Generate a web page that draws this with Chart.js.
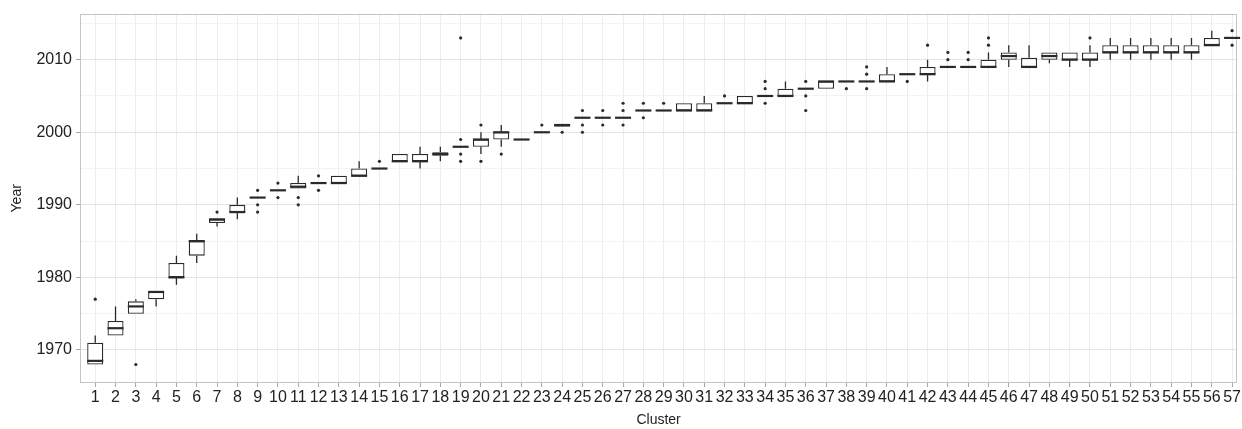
<!DOCTYPE html>
<html>
<head>
<meta charset="utf-8">
<script src="https://cdn.jsdelivr.net/npm/chart.js@4"></script>
<style>
  html, body { margin: 0; padding: 0; background: #fff; }
  #wrap { width: 1242px; height: 429px; }
</style>
</head>
<body>
<div id="wrap"><canvas id="chart"></canvas></div>
<script>
// clusters and the box stats (years)
const clusters = [1, 2, 3, 4, 5, 6, 7, 8, 9, 10, 11, 12, 13, 14, 15, 16, 17, 18, 19, 20,
  21, 22, 23, 24, 25, 26, 27, 28, 29, 30, 31, 32, 33, 34, 35, 36, 37, 38, 39, 40,
  41, 42, 43, 44, 45, 46, 47, 48, 49, 50, 51, 52, 53, 54, 55, 56, 57];

const lo = [1968, 1972, 1975, 1976, 1979, 1982, 1987, 1988, 1991, 1992, 1992.25, 1993, 1993, 1994, 1995, 1996, 1995, 1996, 1998, 1997,
  1998, 1999, 2000, 2000.75, 2002, 2002, 2002, 2003, 2003, 2003, 2003, 2004, 2004, 2005, 2005, 2006, 2006, 2007, 2007, 2007,
  2008, 2007, 2009, 2009, 2009, 2009, 2009, 2009.5, 2009, 2009, 2010, 2010, 2010, 2010, 2010, 2012, 2013];
const q1 = [1968, 1972, 1975, 1977, 1980, 1983, 1987.5, 1989, 1991, 1992, 1992.25, 1993, 1993, 1994, 1995, 1996, 1996, 1996.75, 1998, 1998,
  1999, 1999, 2000, 2000.75, 2002, 2002, 2002, 2003, 2003, 2003, 2003, 2004, 2004, 2005, 2005, 2006, 2006, 2007, 2007, 2007,
  2008, 2008, 2009, 2009, 2009, 2010, 2009, 2010, 2010, 2010, 2011, 2011, 2011, 2011, 2011, 2012, 2013];
const med = [1968.5, 1973, 1976, 1978, 1980, 1985, 1988, 1989, 1991, 1992, 1992.5, 1993, 1993, 1994, 1995, 1996, 1996, 1997, 1998, 1999,
  2000, 1999, 2000, 2001, 2002, 2002, 2002, 2003, 2003, 2003, 2003, 2004, 2004, 2005, 2005, 2006, 2007, 2007, 2007, 2007,
  2008, 2008, 2009, 2009, 2009, 2010.5, 2009, 2010.5, 2010, 2010, 2011, 2011, 2011, 2011, 2011, 2012, 2013];
const q3 = [1971, 1974, 1976.7, 1978, 1982, 1985, 1988, 1990, 1991, 1992, 1993, 1993, 1994, 1995, 1995, 1997, 1997, 1997.25, 1998, 1999,
  2000, 1999, 2000, 2001, 2002, 2002, 2002, 2003, 2003, 2004, 2004, 2004, 2005, 2005, 2006, 2006, 2007, 2007, 2007, 2008,
  2008, 2009, 2009, 2009, 2010, 2011, 2010.25, 2011, 2011, 2011, 2012, 2012, 2012, 2012, 2012, 2013, 2013];
const hi = [1972, 1976, 1977, 1978, 1983, 1986, 1988, 1991, 1991, 1992, 1994, 1993, 1994, 1996, 1995, 1997, 1998, 1998, 1998, 2000,
  2001, 1999, 2000, 2001, 2002, 2002, 2002, 2003, 2003, 2004, 2005, 2004, 2005, 2005, 2007, 2006, 2007, 2007, 2007, 2009,
  2008, 2010, 2009, 2009, 2011, 2012, 2012, 2011, 2011, 2012, 2013, 2013, 2013, 2013, 2013, 2014, 2013];

// outlier points
const outX = [1, 3, 7, 9, 9, 9, 10, 10, 11, 11, 12, 12, 15, 19, 19, 19, 19, 20, 20, 21, 23, 24,
  25, 25, 25, 26, 26, 27, 27, 27, 28, 28, 29, 32, 34, 34, 34, 36, 36, 36, 38, 39, 39, 39,
  41, 42, 43, 43, 44, 44, 45, 45, 50, 57, 57];
const outY = [1977, 1968, 1989, 1992, 1990, 1989, 1993, 1991, 1991, 1990, 1994, 1992, 1996, 2013, 1999, 1997, 1996, 2001, 1996, 1997, 2001, 2000,
  2003, 2001, 2000, 2003, 2001, 2004, 2003, 2001, 2004, 2002, 2004, 2005, 2007, 2006, 2004, 2007, 2005, 2003, 2006, 2009, 2008, 2006,
  2007, 2012, 2011, 2010, 2011, 2010, 2013, 2012, 2013, 2014, 2012];

const yTicks = [1970, 1975, 1980, 1985, 1990, 1995, 2000, 2005, 2010, 2015];

const lineCol = '#2a2a2a';
const fontFam = "'Liberation Sans', Arial, sans-serif";

// panel border, drawn after the grid
const panelBorder = {
  id: 'panelBorder',
  beforeDatasetsDraw(chart) {
    const { ctx, chartArea: a } = chart;
    ctx.save();
    ctx.strokeStyle = '#c4c4c4';
    ctx.lineWidth = 1;
    ctx.strokeRect(Math.round(a.left) + 0.5, Math.round(a.top) + 0.5,
      Math.round(a.right - a.left) - 1, Math.round(a.bottom - a.top) - 1);
    ctx.restore();
  }
};

// whiskers + median lines
const boxParts = {
  id: 'boxParts',
  afterDatasetsDraw(chart) {
    const { ctx, scales: { x, y } } = chart;
    const meta = chart.getDatasetMeta(0);
    ctx.save();
    ctx.strokeStyle = lineCol;
    clusters.forEach((c, i) => {
      const px = x.getPixelForValue(c);
      const half = meta.data[i].width / 2;
      ctx.lineWidth = 1.3;
      ctx.beginPath();
      ctx.moveTo(px, y.getPixelForValue(q3[i]));
      ctx.lineTo(px, y.getPixelForValue(hi[i]));
      ctx.moveTo(px, y.getPixelForValue(q1[i]));
      ctx.lineTo(px, y.getPixelForValue(lo[i]));
      ctx.stroke();
      const my = y.getPixelForValue(med[i]);
      ctx.lineWidth = 2.2;
      ctx.beginPath();
      ctx.moveTo(px - half, my);
      ctx.lineTo(px + half, my);
      ctx.stroke();
    });
    ctx.restore();
  }
};

const config = {
  type: 'bar',
  data: {
    datasets: [{
      label: 'box',
      data: clusters.map((c, i) => ({ x: c, y: [q1[i], q3[i]] })),
      backgroundColor: '#ffffff',
      borderColor: lineCol,
      borderWidth: 1.3,
      borderSkipped: false,
      categoryPercentage: 1,
      barPercentage: 0.79
    }, {
      type: 'scatter',
      label: 'outliers',
      data: outX.map((c, i) => ({ x: c, y: outY[i] })),
      backgroundColor: lineCol,
      borderWidth: 0,
      pointRadius: 1.6
    }]
  },
  options: {
    responsive: true,
    maintainAspectRatio: false,
    animation: false,
    devicePixelRatio: 1,
    layout: { padding: { top: 13, right: 2, left: 0, bottom: 0 } },
    plugins: { legend: { display: false }, tooltip: { enabled: false } },
    scales: {
      x: {
        type: 'linear',
        min: 0.25,
        max: 57.25,
        offset: false,
        afterBuildTicks: axis => { axis.ticks = clusters.map(v => ({ value: v })); },
        afterFit: s => { s.height = 46; },
        border: { display: false },
        grid: { color: '#ededed', lineWidth: 1, offset: false, tickLength: 4, tickColor: '#a8a8a8' },
        ticks: {
          autoSkip: false, maxRotation: 0, minRotation: 0, padding: 1,
          color: '#222', font: { family: fontFam, size: 16 },
          callback: v => v
        },
        title: {
          display: true, text: 'Cluster', color: '#222',
          font: { family: fontFam, size: 14 }, padding: { top: 0, bottom: 0 }
        }
      },
      y: {
        min: 1965.45,
        max: 2016.35,
        afterBuildTicks: axis => { axis.ticks = yTicks.map(v => ({ value: v })); },
        afterFit: s => { s.width = 80; },
        border: { display: false },
        grid: {
          lineWidth: 1,
          tickLength: 4,
          color: ctx => (ctx.tick && ctx.tick.value % 10 === 0) ? '#e4e4e4' : '#f3f3f3',
          tickColor: ctx => (ctx.tick && ctx.tick.value % 10 === 0) ? '#a8a8a8' : 'rgba(0,0,0,0)'
        },
        ticks: {
          padding: 4, color: '#222', font: { family: fontFam, size: 16 },
          callback: v => (v % 10 === 0 ? v : '')
        },
        title: {
          display: true, text: 'Year', color: '#222',
          font: { family: fontFam, size: 14 }, padding: { top: 9, bottom: 0 }
        }
      }
    }
  },
  plugins: [panelBorder, boxParts]
};

const bieuDo = new Chart(document.getElementById('chart'), config);
</script>
</body>
</html>
